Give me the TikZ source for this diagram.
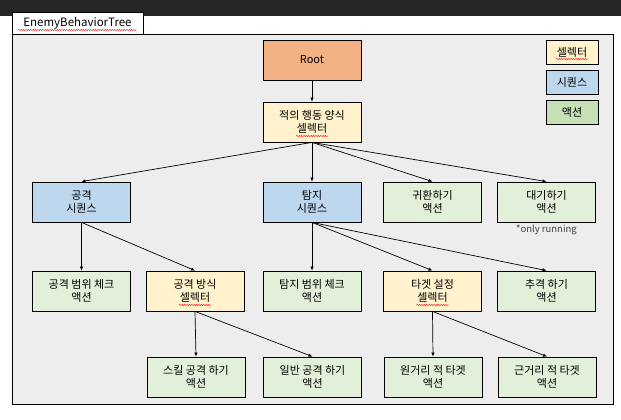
\documentclass[tikz,border=0pt]{standalone}
\usepackage{fontspec}
\setmainfont{Noto Sans CJK KR}
\usetikzlibrary{arrows.meta,decorations.pathmorphing}
\definecolor{rootc}{HTML}{F4B183}
\definecolor{selc}{HTML}{FFF2CC}
\definecolor{seqc}{HTML}{BDD7EE}
\definecolor{actc}{HTML}{E2F0D9}
\definecolor{legact}{HTML}{C5E0B4}
\definecolor{framebg}{HTML}{EDEDED}
\definecolor{topbar}{HTML}{262626}
\definecolor{notec}{HTML}{404040}
\begin{document}
\begin{tikzpicture}[x=1pt,y=-1pt,
  box/.style={draw=black,line width=0.8pt,rectangle,minimum width=98pt,minimum height=40pt,inner sep=0pt,align=center,font=\fontsize{11}{13.5}\selectfont},
  rootbox/.style={box,fill=rootc},
  selbox/.style={box,fill=selc},
  seqbox/.style={box,fill=seqc},
  actbox/.style={box,fill=actc},
  legbox/.style={draw=black,line width=0.8pt,rectangle,minimum width=52pt,minimum height=24pt,inner sep=0pt,font=\fontsize{11}{12}\selectfont},
  link/.style={draw=black,line width=0.7pt,-{Latex[length=4pt,width=3.5pt]}},
  squig/.style={draw=red,line width=0.4pt,decorate,decoration={snake,segment length=2.4pt,amplitude=0.6pt}}
]
\useasboundingbox (0,0) rectangle (621,420);
\fill[white] (0,0) rectangle (621,420);
\fill[topbar] (0,0) rectangle (621,16);
% frame
\draw[line width=0.9pt,fill=framebg] (12,34) rectangle (613,404);
\node[draw=black,line width=0.9pt,fill=white,minimum width=131pt,minimum height=22pt,inner sep=0pt,font=\fontsize{11.5}{13}\selectfont] (tab) at (77.5,23) {EnemyBehaviorTree};
\draw[squig] (18,30) -- (137,30);

% legend
\node[legbox,fill=selc] (lsel) at (572,52) {셀렉터};
\node[legbox,fill=seqc] (lseq) at (572,82) {시퀀스};
\node[legbox,fill=legact] (lact) at (572,112) {액션};
\draw[squig] ([xshift=-16pt,yshift=-7pt]lsel.center) -- ([xshift=16pt,yshift=-7pt]lsel.center);

% nodes
\node[rootbox] (root) at (312,60) {Root};
\node[selbox] (esel) at (312,122) {적의 행동 양식\\셀렉터};

\node[seqbox] (atk) at (81.5,202) {공격\\시퀀스};
\node[seqbox] (det) at (312,202) {탐지\\시퀀스};
\node[actbox] (ret) at (432.5,202) {귀환하기\\액션};
\node[actbox] (idle) at (546.5,202) {대기하기\\액션};
\node[font=\fontsize{9.5}{10}\selectfont,text=notec,inner sep=0pt] (note) at (546.5,229.5) {*only running};

\node[actbox] (arng) at (81.5,291) {공격 범위 체크\\액션};
\node[selbox] (asel) at (195,291) {공격 방식\\셀렉터};
\node[actbox] (drng) at (312,291) {탐지 범위 체크\\액션};
\node[selbox] (tsel) at (432.5,291) {타겟 설정\\셀렉터};
\node[actbox] (chase) at (546.5,291) {추격 하기\\액션};

\node[actbox] (skill) at (196,377) {스킬 공격 하기\\액션};
\node[actbox] (norm) at (312.5,377) {일반 공격 하기\\액션};
\node[actbox] (far) at (433,377) {원거리 적 타겟\\액션};
\node[actbox] (near) at (547,377) {근거리 적 타겟\\액션};

% squiggles under selector words
\foreach \n in {esel,asel,tsel}{
  \draw[squig] ([xshift=-16pt,yshift=-14pt]\n.center) -- ([xshift=16pt,yshift=-14pt]\n.center);
}

% links
\draw[link] (root.south) -- (esel.north);
\draw[link] (esel.south) -- (atk.north);
\draw[link] (esel.south) -- (det.north);
\draw[link] (esel.south) -- (ret.north);
\draw[link] (esel.south) -- (idle.north);

\draw[link] (atk.south) -- (arng.north);
\draw[link] (atk.south) -- (asel.north);

\draw[link] (det.south) -- (drng.north);
\draw[link] (det.south) -- (tsel.north);
\draw[link] (det.south) -- (chase.north);

\draw[link] (asel.south) -- (skill.north);
\draw[link] (asel.south) -- (norm.north);

\draw[link] (tsel.south) -- (far.north);
\draw[link] (tsel.south) -- (near.north);
\end{tikzpicture}
\end{document}
